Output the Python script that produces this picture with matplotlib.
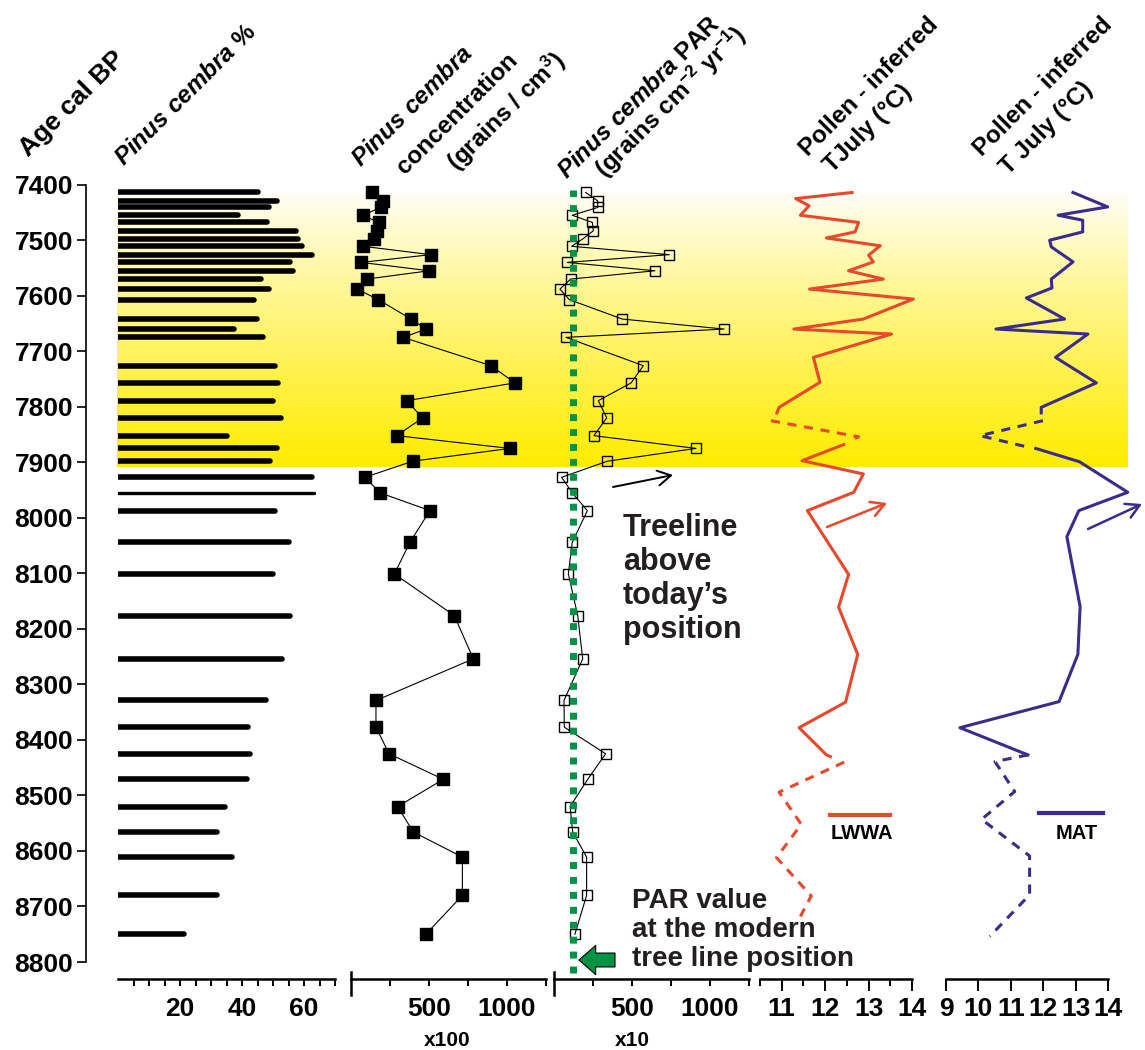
import numpy as np
import matplotlib
matplotlib.use('Agg')
import matplotlib.pyplot as plt
from matplotlib.lines import Line2D

plt.rcParams['font.family'] = ['Liberation Sans', 'DejaVu Sans']
plt.rcParams['font.weight'] = 'bold'
plt.rcParams['mathtext.fontset'] = 'custom'
plt.rcParams['mathtext.rm'] = 'Liberation Sans:bold'
plt.rcParams['mathtext.it'] = 'Liberation Sans:bold:italic'
plt.rcParams['mathtext.bf'] = 'Liberation Sans:bold'

# sample ages (cal BP) shared by the pollen series
ages = [7414, 7429, 7441, 7455, 7468, 7483, 7497, 7511, 7526, 7540,
        7555, 7570, 7588, 7607, 7642, 7660, 7675, 7726, 7757, 7789,
        7820, 7852, 7875, 7898, 7927, 7955, 7987, 8044, 8101, 8176,
        8254, 8329, 8377, 8425, 8471, 8520, 8566, 8611, 8680, 8750]

# Pinus cembra %
pinus_pct = [45.3, 51.2, 48.8, 38.6, 48.2, 57.4, 58.2, 59.5, 62.5, 55.5,
             56.5, 46.1, 48.8, 43.9, 44.8, 37.3, 46.9, 50.7, 51.7, 50.0,
             52.5, 35.3, 51.2, 49.1, 62.5, 63.3, 50.7, 55.2, 50.0, 55.5,
             52.9, 47.7, 42.0, 42.5, 41.6, 34.6, 31.9, 36.7, 31.8, 21.2]

# concentration (x100 grains / cm3)
conc = [133, 207, 190, 75, 179, 169, 147, 79, 511, 66,
        502, 100, 40, 175, 385, 481, 335, 897, 1051, 357,
        459, 293, 1019, 395, 90, 186, 506, 378, 278, 662,
        784, 160, 160, 244, 592, 299, 400, 714, 714, 480]

# PAR (x10 grains cm-2 yr-1)
par = [203, 280, 280, 117, 246, 252, 188, 113, 739, 85,
       647, 107, 38, 98, 438, 1090, 77, 573, 494, 284,
       338, 256, 910, 342, 49, 117, 214, 117, 92, 152,
       184, 64, 66, 331, 216, 103, 120, 209, 209, 134]
modern_par = 122

# LWWA July temperature, solid and dashed parts
lwwa_age_a = [7414, 7425, 7438, 7455, 7468, 7485, 7496, 7510, 7527, 7539, 7555,
              7570, 7588, 7606, 7642, 7660, 7669, 7711, 7756, 7801, 7811]
lwwa_t_a = [12.62, 11.32, 11.63, 11.43, 12.77, 12.69, 12.03, 13.27, 13.0, 13.11, 12.54,
            13.34, 11.64, 14.03, 12.88, 11.28, 13.53, 11.73, 11.88, 10.94, 10.89]
lwwa_age_b = [7825, 7854, 7860]
lwwa_t_b = [10.75, 12.77, 12.6]
lwwa_age_c = [7868, 7897, 7921, 7954, 7987, 8102, 8161, 8246, 8332, 8378, 8427, 8430]
lwwa_t_c = [12.43, 11.47, 12.88, 12.66, 11.59, 12.54, 12.31, 12.75, 12.47, 11.40, 12.03, 12.12]
lwwa_age_d = [8440, 8494, 8552, 8612, 8681, 8718]
lwwa_t_d = [12.44, 10.94, 11.45, 10.88, 11.68, 11.43]

# MAT July temperature, solid and dashed parts
mat_age_a = [7414, 7440, 7455, 7464, 7485, 7500, 7512, 7539, 7570, 7586, 7604,
             7642, 7660, 7669, 7711, 7757, 7801, 7811]
mat_t_a = [12.92, 13.99, 12.46, 13.22, 13.22, 12.2, 12.25, 12.92, 12.25, 12.27, 11.48,
           12.66, 10.54, 13.38, 12.38, 13.64, 11.94, 11.94]
mat_age_b = [7825, 7852, 7872]
mat_t_b = [11.99, 10.05, 11.48]
mat_age_c = [7875, 7899, 7954, 7987, 8034, 8160, 8246, 8331, 8378, 8427]
mat_t_c = [11.77, 13.12, 14.61, 13.1, 12.73, 13.14, 13.07, 12.49, 9.43, 11.53]
mat_age_d = [8427, 8439, 8493, 8543, 8609, 8679, 8754]
mat_t_d = [11.53, 10.51, 11.12, 10.1, 11.58, 11.58, 10.35]

age_ticks = list(range(7400, 8900, 100))
yellow_top, yellow_bottom = 7409.5, 7908

RED = '#e8482c'
PURPLE = '#3b2b8c'
GREEN = '#009245'
YELLOW = (1.0, 0.925, 0.0)

W, H = 1145, 1050
Y_TOP, Y_BOT = 184.7, 962.0


def fx(x):
    return x / W


def fy(y):
    return 1 - y / H


def box(x0, x1, ytop, ybot):
    return [fx(x0), fy(ybot), (x1 - x0) / W, (ybot - ytop) / H]


def panel(x0, x1, lo, hi):
    ax = fig.add_axes(box(x0, x1, Y_TOP, Y_BOT))
    ax.set_xlim(lo, hi)
    ax.set_ylim(8800, 7400)
    ax.patch.set_visible(False)
    for s in ax.spines.values():
        s.set_visible(False)
    ax.set_xticks([])
    ax.set_yticks([])
    return ax


def scale(x0, x1, lo, hi, major, minor, major_len, minor_len, pad, big_start=False):
    ax = fig.add_axes(box(x0, x1, 972, 979))
    ax.set_xlim(lo, hi)
    ax.set_ylim(0, 1)
    ax.patch.set_visible(False)
    for s in ['top', 'left', 'right']:
        ax.spines[s].set_visible(False)
    ax.spines['bottom'].set_linewidth(1.8)
    ax.set_yticks([])
    ax.set_xticks(major)
    ax.set_xticks(minor, minor=True)
    ax.tick_params(axis='x', which='major', length=major_len, width=1.4,
                   labelsize=19, pad=pad)
    ax.tick_params(axis='x', which='minor', length=minor_len, width=1.4)
    if big_start:
        ax.plot([lo, lo], [-2.3, 1.0], color='black', lw=1.8, clip_on=False)
    return ax


fig = plt.figure(figsize=(W / 100, H / 100), dpi=100)

# yellow band behind the panels
bg = fig.add_axes(box(117, 1128, Y_TOP, Y_BOT))
bg.set_xlim(0, 1)
bg.set_ylim(8800, 7400)
bg.axis('off')
t = np.linspace(0, 1, 256) ** 0.85
grad = np.stack([np.ones_like(t), 1 - t * (1 - YELLOW[1]), 1 - t], axis=-1)[:, None, :]
bg.imshow(grad, extent=(0, 1, yellow_bottom, yellow_top), aspect='auto', interpolation='bilinear')

# panel 1: Pinus cembra %
ax1 = panel(118, 335, 0, 70)
ax1.hlines(ages, 0, pinus_pct, color='black',
           linewidths=[2.4 if a == 7955 else 4.0 for a in ages], capstyle='round')
ax1.spines['left'].set_visible(True)
ax1.spines['left'].set_position(('outward', 23))
ax1.spines['left'].set_linewidth(1.2)
ax1.set_yticks(age_ticks)
ax1.tick_params(axis='y', length=6.3, width=1.2, labelsize=19, pad=3)

# panel 2: concentration
ax2 = panel(351, 546, 0, 1250)
ax2.plot(conc, ages, color='black', lw=0.8, marker='s', ms=8.5,
         mfc='black', mec='black', clip_on=False)

# panel 3: PAR
ax3 = panel(554, 749, 0, 1250)
ax3.plot(par, ages, color='black', lw=0.8, marker='s', ms=7.6,
         mfc='none', mec='black', mew=1.0, clip_on=False)
ax3.axvline(modern_par, ymin=-0.014, ymax=(8800 - yellow_top) / 1400, color=GREEN,
            lw=5, ls=(0, (1, 1.15)), dash_capstyle='butt', clip_on=False)

# panel 4: LWWA
ax4 = panel(760, 912, 10.5, 14)
ax4.plot(lwwa_t_a, lwwa_age_a, color=RED, lw=2.2, clip_on=False)
ax4.plot(lwwa_t_b, lwwa_age_b, color=RED, lw=2.2, ls=(0, (3, 2.5)), clip_on=False)
ax4.plot(lwwa_t_c, lwwa_age_c, color=RED, lw=2.2, clip_on=False)
ax4.plot(lwwa_t_d, lwwa_age_d, color=RED, lw=2.2, ls=(0, (3, 2.5)), clip_on=False)

# panel 5: MAT
ax5 = panel(946, 1108, 9, 14)
ax5.plot(mat_t_a, mat_age_a, color=PURPLE, lw=2.2, clip_on=False)
ax5.plot(mat_t_b, mat_age_b, color=PURPLE, lw=2.2, ls=(0, (3, 2.5)), clip_on=False)
ax5.plot(mat_t_c, mat_age_c, color=PURPLE, lw=2.2, clip_on=False)
ax5.plot(mat_t_d, mat_age_d, color=PURPLE, lw=2.2, ls=(0, (3, 2.5)), clip_on=False)

# bottom scales
scale(118, 335, 0, 70, [20, 40, 60], list(range(5, 75, 5)), 5, 5, 8.2)
scale(351, 546, 0, 1250, [500, 1000], [250, 750, 1250], 5, 5, 8.2, big_start=True)
scale(554, 749, 0, 1250, [500, 1000], [250, 750, 1250], 5, 5, 8.2, big_start=True)
scale(760, 912, 10.5, 14, [11, 12, 13, 14], [10.5, 11.5, 12.5, 13.5], 8.6, 5, 4.6)
scale(946, 1108, 9, 14, [9, 10, 11, 12, 13, 14], [], 8.6, 5, 4.6)
fig.text(fx(447), fy(1040), 'x100', fontsize=15, ha='center', va='center')
fig.text(fx(632), fy(1040), 'x10', fontsize=15, ha='center', va='center')

# column headers
headers = [
    (28, 157, 'Age cal BP', 19),
    (124, 167, r'$\mathit{Pinus\ cembra}$ %', 17.5),
    (361, 168, r'$\mathit{Pinus\ cembra}$', 17.5),
    (405, 175, 'concentration', 17.5),
    (457, 172, r'(grains / cm$^{3}$)', 17.5),
    (567, 180, r'$\mathit{Pinus\ cembra}$ PAR', 17.5),
    (605, 179, r'(grains cm$^{-2}$ yr$^{-1}$)', 17.5),
    (808, 157, 'Pollen - inferred', 17.5),
    (832, 173, 'TJuly (°C)', 17.5),
    (982, 157, 'Pollen - inferred', 17.5),
    (1008, 175, 'T July (°C)', 17.5),
]
for x, y, s, size in headers:
    fig.text(fx(x), fy(y), s, rotation=45, rotation_mode='anchor',
             ha='left', va='baseline', fontsize=size)

# annotations (baseline of the last line)
fig.text(fx(623), fy(638), 'Treeline\nabove\ntoday\u2019s\nposition', fontsize=22,
         ha='left', va='baseline', linespacing=1.18, color='#231f20')
fig.text(fx(632), fy(966), 'PAR value\nat the modern\ntree line position', fontsize=20,
         ha='left', va='baseline', linespacing=1.15, color='#231f20')

fig.add_artist(Line2D([fx(830), fx(890)], [fy(815), fy(815)], color=RED, lw=3))
fig.text(fx(862), fy(839), 'LWWA', fontsize=14.5, ha='center', va='baseline')
fig.add_artist(Line2D([fx(1039), fx(1103)], [fy(813), fy(813)], color=PURPLE, lw=3))
fig.text(fx(1077), fy(839), 'MAT', fontsize=14.5, ha='center', va='baseline')

arrows = [((613, 487), (673, 475), 'black', 1.4),
          ((827, 527), (887, 503), RED, 1.8),
          ((1088, 529), (1142, 504), PURPLE, 1.8)]
for (x0, y0), (x1, y1), c, lw in arrows:
    fig.add_artist(plt.Annotation('', xy=(x1, H - y1), xytext=(x0, H - y0),
                                  xycoords='figure pixels', textcoords='figure pixels',
                                  arrowprops=dict(arrowstyle='->,head_length=0.8,head_width=0.45',
                                                  color=c, lw=lw, shrinkA=0, shrinkB=0,
                                                  mutation_scale=12)))

fig.add_artist(plt.Annotation('', xy=(579, H - 960), xytext=(615, H - 960),
                              xycoords='figure pixels', textcoords='figure pixels',
                              arrowprops=dict(arrowstyle='simple,head_length=12,head_width=21,tail_width=10',
                                              fc=GREEN, ec='black', lw=0.8, shrinkA=0, shrinkB=0,
                                              mutation_scale=1)))

fig.savefig('out.png', dpi=100, facecolor='white')
